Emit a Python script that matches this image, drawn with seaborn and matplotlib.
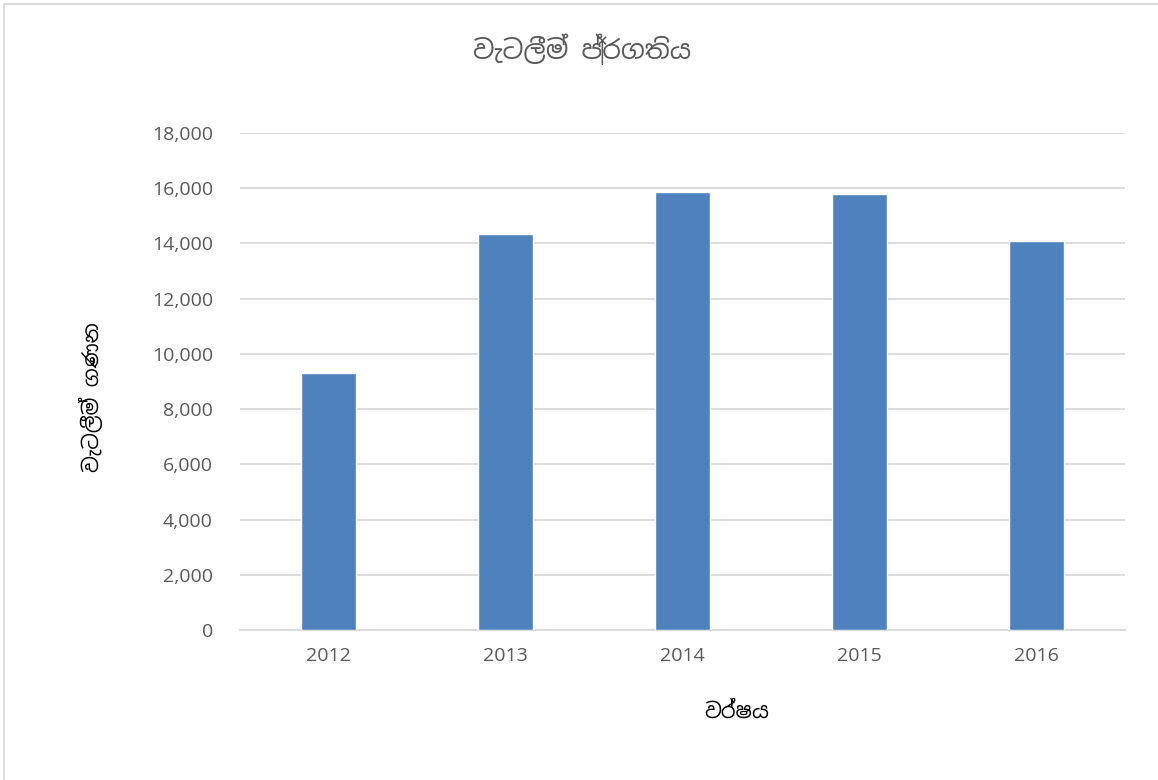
import matplotlib
matplotlib.use('agg')
import matplotlib.pyplot as plt
from matplotlib.lines import Line2D
from matplotlib.ticker import FuncFormatter
import seaborn as sns
import pandas as pd

# data
years = ['2012', '2013', '2014', '2015', '2016']
raids = [9300, 14330, 15870, 15780, 14100]

title = 'වැටලීම් ප්‍රගතිය'
xlabel = 'වර්ෂය'
ylabel = 'වැටලීම් ගණන'

sns.set_theme(style='white')
plt.rcParams['font.family'] = ['Open Sans', 'DejaVu Sans']
sin_font = ['Noto Sans Sinhala', 'DejaVu Sans']

df = pd.DataFrame({'year': years, 'raids': raids})

fig = plt.figure(figsize=(11.58, 7.8), dpi=100)
ax = fig.add_axes([0.2073, 0.1923, 0.7642, 0.6372])

sns.barplot(data=df, x='year', y='raids', color='#4F81BD', width=0.315,
            saturation=1, ax=ax, zorder=3)

ax.set_ylim(0, 18000)
ax.set_yticks(range(0, 18001, 2000))
ax.yaxis.set_major_formatter(FuncFormatter(lambda v, p: f'{int(v):,}'))
ax.grid(axis='y', color='#D9D9D9', linewidth=1.3, zorder=0)
ax.set_axisbelow(True)
for s in ['top', 'right', 'left']:
    ax.spines[s].set_visible(False)
ax.spines['bottom'].set_color('#D9D9D9')
ax.spines['bottom'].set_linewidth(1.3)
ax.tick_params(axis='both', length=0, labelsize=14, labelcolor='#595959')
ax.tick_params(axis='y', pad=19.5)
ax.tick_params(axis='x', pad=12)
ax.set_xlabel('')
ax.set_ylabel('')

fig.text(0.503, 0.936, title, ha='center', va='center', fontsize=19,
         color='#595959', family=sin_font)
fig.text(0.636, 0.087, xlabel, ha='center', va='center', fontsize=15,
         color='black', family=sin_font)
fig.text(0.079, 0.491, ylabel, ha='center', va='center', fontsize=15,
         color='black', rotation=90, family=sin_font)

# outer chart border (only top and left edges show in the reference)
fig.add_artist(Line2D([0.0035, 0.0035], [0, 0.9945], color='#D9D9D9',
                      linewidth=1.3, transform=fig.transFigure))
fig.add_artist(Line2D([0.0035, 1], [0.9945, 0.9945], color='#D9D9D9',
                      linewidth=1.3, transform=fig.transFigure))

fig.savefig('out.png', dpi=100)
